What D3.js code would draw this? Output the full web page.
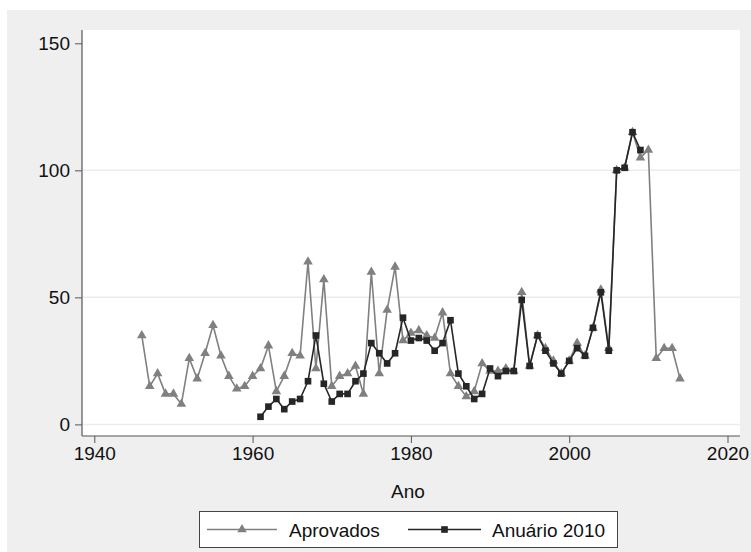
<!DOCTYPE html>
<html>
<head>
<meta charset="utf-8">
<script src="https://cdn.jsdelivr.net/npm/d3@7"></script>
<style>
  html, body { margin: 0; padding: 0; background: #ffffff; }
  svg { display: block; font-family: "Liberation Sans", Arial, sans-serif; }
</style>
</head>
<body>
<svg id="chart" width="751" height="552"></svg>
<script>
// Number of approvals per year, two sources
const aprovadosYears = d3.range(1946, 2015);
const aprovadosValues = [
  35, 15, 20, 12, 12, 8, 26, 18, 28, 39,
  27, 19, 14, 15, 19, 22, 31, 13, 19, 28,
  27, 64, 22, 57, 15, 19, 20, 23, 12, 60,
  20, 45, 62, 33, 36, 37, 35, 34, 44, 20,
  15, 11, 13, 24, 21, 21, 22, 21, 52, 23,
  35, 30, 25, 20, 25, 32, 27, 38, 53, 30,
  100, 101, 115, 105, 108, 26, 30, 30, 18
];
const anuarioYears = d3.range(1961, 2010);
const anuarioValues = [
  3, 7, 10, 6, 9, 10, 17, 35, 16, 9,
  12, 12, 17, 20, 32, 28, 24, 28, 42, 33,
  34, 33, 29, 32, 41, 20, 15, 10, 12, 22,
  19, 21, 21, 49, 23, 35, 29, 24, 20, 25,
  30, 27, 38, 52, 29, 100, 101, 115, 108
];
const xTicks = [1940, 1960, 1980, 2000, 2020];
const yTicks = [0, 50, 100, 150];
const gridValues = [0, 50, 100];
const seriesNames = ["Aprovados", "Anuário 2010"];
const xTitle = "Ano";

const grayColor = "#808080";
const darkColor = "#262626";

const svg = d3.select("#chart");

// Outer graph region and white plot region
svg.append("rect").attr("x", 7).attr("y", 10).attr("width", 744).attr("height", 542).attr("fill", "#efefef");
const plot = { left: 82, right: 740, top: 30, bottom: 436 };
svg.append("rect")
  .attr("x", plot.left).attr("y", plot.top)
  .attr("width", plot.right - plot.left).attr("height", plot.bottom - plot.top)
  .attr("fill", "#ffffff");

const x = d3.scaleLinear().domain([1940, 2020]).range([94.3, 727.5]);
const y = d3.scaleLinear().domain([0, 150]).range([424.4, 43.3]);

// Horizontal grid lines
svg.append("g").selectAll("line").data(gridValues).join("line")
  .attr("x1", plot.left + 1).attr("x2", plot.right)
  .attr("y1", d => y(d)).attr("y2", d => y(d))
  .attr("stroke", "#e6eef2").attr("stroke-width", 1.5);

// Axes
const yAxis = svg.append("g")
  .attr("transform", `translate(${plot.left},0)`)
  .call(d3.axisLeft(y).tickValues(yTicks).tickSize(7).tickPadding(5).tickFormat(d3.format("d")));
yAxis.select(".domain").remove();
yAxis.append("line").attr("x1", 0).attr("x2", 0).attr("y1", plot.top).attr("y2", plot.bottom)
  .attr("stroke", "#555").attr("stroke-width", 1.2);

const xAxis = svg.append("g")
  .attr("transform", `translate(0,${plot.bottom})`)
  .call(d3.axisBottom(x).tickValues(xTicks).tickSize(7).tickPadding(4).tickFormat(d3.format("d")));
xAxis.select(".domain").remove();
xAxis.append("line").attr("x1", plot.left).attr("x2", plot.right).attr("y1", 0).attr("y2", 0)
  .attr("stroke", "#555").attr("stroke-width", 1.2);

svg.selectAll(".tick line").attr("stroke", "#555").attr("stroke-width", 1);
svg.selectAll(".tick text").attr("fill", "#111").style("font-size", "19px")
  .style("font-family", "'Liberation Sans', Arial, sans-serif");

svg.append("text").attr("x", 408).attr("y", 498).attr("text-anchor", "middle")
  .attr("fill", "#111").style("font-size", "19px").text(xTitle);

// Series
const line = d3.line().x(d => x(d[0])).y(d => y(d[1]));
const aprovados = aprovadosYears.map((yr, i) => [yr, aprovadosValues[i]]);
const anuario = anuarioYears.map((yr, i) => [yr, anuarioValues[i]]);

const triangle = d3.symbol().type(d3.symbolTriangle).size(40);
const square = d3.symbol().type(d3.symbolSquare).size(44);

function drawSeries(data, color, sym) {
  const g = svg.append("g");
  g.append("path").datum(data).attr("d", line)
    .attr("fill", "none").attr("stroke", color).attr("stroke-width", 1.6)
    .attr("stroke-linejoin", "round");
  g.selectAll("path.m").data(data).join("path").attr("class", "m")
    .attr("transform", d => `translate(${x(d[0])},${y(d[1])})`)
    .attr("d", sym).attr("fill", color);
}
drawSeries(aprovados, grayColor, triangle);
drawSeries(anuario, darkColor, square);

// Legend
const leg = svg.append("g");
leg.append("rect").attr("x", 199.5).attr("y", 511.5).attr("width", 418).attr("height", 36)
  .attr("fill", "#ffffff").attr("stroke", "#444").attr("stroke-width", 1);
const legendItems = [
  { name: seriesNames[0], color: grayColor, sym: triangle, x1: 207, x2: 277, tx: 289 },
  { name: seriesNames[1], color: darkColor, sym: square, x1: 408, x2: 481, tx: 492 }
];
const ly = 529.5;
legendItems.forEach(it => {
  leg.append("line").attr("x1", it.x1).attr("x2", it.x2).attr("y1", ly).attr("y2", ly)
    .attr("stroke", it.color).attr("stroke-width", 1.6);
  leg.append("path").attr("transform", `translate(${(it.x1 + it.x2) / 2},${ly})`)
    .attr("d", it.sym).attr("fill", it.color);
  leg.append("text").attr("x", it.tx).attr("y", ly + 7).attr("fill", "#111")
    .style("font-size", "19px").text(it.name);
});
</script>
</body>
</html>
